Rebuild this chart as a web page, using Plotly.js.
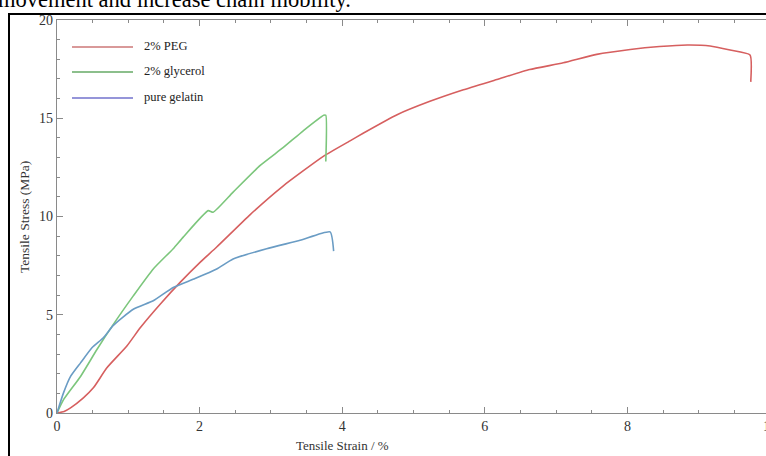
<!DOCTYPE html>
<html>
<head>
<meta charset="utf-8">
<script src="https://cdn.plot.ly/plotly-3.0.1.min.js"></script>
<style>
html,body{margin:0;padding:0;overflow:hidden;background:#fff;}
#chart{width:766px;height:456px;}
</style>
</head>
<body>
<div id="chart"></div>
<script>
// ---- data ----
const seriesNames = ["2% PEG", "2% glycerol", "pure gelatin"];
const pegStrain = [0, 0.10, 0.19, 0.37, 0.51, 0.70, 0.98, 1.17, 1.45, 1.73, 2.01, 2.24, 2.71, 3.17, 3.74, 4.11, 4.30, 4.77, 5.23, 5.70, 6.17, 6.63, 7.10, 7.57, 8.04, 8.45, 8.84, 9.16, 9.44, 9.72, 9.73];
const pegStress = [0, 0.08, 0.26, 0.77, 1.28, 2.30, 3.41, 4.35, 5.55, 6.66, 7.68, 8.45, 10.10, 11.55, 13.07, 13.85, 14.25, 15.18, 15.86, 16.45, 16.97, 17.48, 17.82, 18.25, 18.50, 18.65, 18.73, 18.68, 18.47, 18.22, 16.85];
const glyStrain = [0, 0.09, 0.33, 0.56, 0.79, 1.07, 1.35, 1.63, 1.77, 2.12, 2.19, 2.47, 2.85, 3.17, 3.45, 3.74, 3.77, 3.77];
const glyStress = [0, 0.67, 1.86, 3.23, 4.51, 5.96, 7.33, 8.36, 8.95, 10.30, 10.22, 11.24, 12.60, 13.50, 14.35, 15.15, 15.15, 12.80];
const gelStrain = [0, 0.09, 0.19, 0.33, 0.49, 0.65, 0.79, 1.07, 1.35, 1.63, 1.92, 2.24, 2.47, 2.94, 3.41, 3.83, 3.88];
const gelStress = [0, 1.01, 1.86, 2.55, 3.32, 3.83, 4.46, 5.28, 5.71, 6.39, 6.82, 7.33, 7.84, 8.36, 8.79, 9.22, 8.24];
const xTickVals = [0, 2, 4, 6, 8, 10];
const yTickVals = [0, 5, 10, 15, 20];
const xTitle = "Tensile Strain / %";
const yTitle = "Tensile Stress (MPa)";
const headerText = "movement and increase chain mobility.";

const lineColors = ["#d65f5f", "#7cc67c", "#6a9cc4"];
const legendColors = ["#cc7777", "#66aa66", "#7272cc"];
const serif = "Liberation Serif, Times New Roman, serif";

const traces = [
  {x: pegStrain, y: pegStress, name: seriesNames[0]},
  {x: glyStrain, y: glyStress, name: seriesNames[1]},
  {x: gelStrain, y: gelStress, name: seriesNames[2]}
].map((t, i) => Object.assign(t, {
  type: "scatter", mode: "lines", showlegend: false,
  line: {color: lineColors[i], width: 1.6, shape: "spline", smoothing: 0.5}
}));

// plot area: left 57px, right edge of the picture (the axis continues past the picture up to 10)
const L = 57, T = 20, WIDTH = 766, HEIGHT = 456;
const W = WIDTH - L, H = 393;
const xMax = 10 * W / (770 - L);           // visible part of the 0..10 axis
const px = v => (v - L) / W;
const py = v => 1 - (v - T) / H;
const legendY = [47, 72, 98];
const shapes = [];
const annotations = [];
seriesNames.forEach((n, i) => {
  shapes.push({type: "line", xref: "paper", yref: "paper",
    x0: px(72), x1: px(133), y0: py(legendY[i]), y1: py(legendY[i]),
    line: {color: legendColors[i], width: 1.6}});
  annotations.push({xref: "paper", yref: "paper", x: px(142), y: py(legendY[i] - 1),
    xanchor: "left", yanchor: "middle", showarrow: false, text: n,
    font: {family: serif, size: 12.5, color: "#222"}});
});
// outer frame (top and left edges visible)
shapes.push({type: "line", xref: "paper", yref: "paper",
  x0: px(8), x1: px(770), y0: py(14), y1: py(14), line: {color: "#000", width: 2}});
shapes.push({type: "line", xref: "paper", yref: "paper",
  x0: px(9), x1: px(9), y0: py(13), y1: py(470), line: {color: "#000", width: 2}});
// axis titles
annotations.push({xref: "x", yref: "paper", x: 4, y: py(445), xanchor: "center", yanchor: "middle",
  showarrow: false, text: xTitle, font: {family: serif, size: 13, color: "#333"}});
annotations.push({xref: "paper", yref: "paper", x: px(24), y: py(217), xanchor: "center", yanchor: "middle",
  textangle: -90, showarrow: false, text: yTitle, font: {family: serif, size: 13.5, color: "#333"}});
// last x tick label, cut by the picture's right edge as in the reference
const lastTick = xTickVals[xTickVals.length - 1];
annotations.push({xref: "paper", yref: "paper", x: lastTick / xMax, y: py(417), xanchor: "center", yanchor: "top",
  showarrow: false, text: String(lastTick), font: {family: serif, size: 14, color: "#333"}});
// header text fragment (cut off at the top edge, as in the reference)
annotations.push({xref: "paper", yref: "paper", x: px(-4), y: py(14), xanchor: "left", yanchor: "bottom",
  showarrow: false, text: headerText, font: {family: serif, size: 22.5, color: "#000"}});

const axisCommon = {
  showgrid: false, zeroline: false, showline: true, linecolor: "#8a8a8a", linewidth: 1.2,
  ticks: "inside", ticklen: 6, tickcolor: "#8a8a8a", tickwidth: 1,
  tickmode: "array",
  tickfont: {family: serif, size: 14, color: "#333"}
};

const layout = {
  width: WIDTH, height: HEIGHT,
  margin: {l: L, r: 0, t: T, b: HEIGHT - T - H},
  paper_bgcolor: "#fff", plot_bgcolor: "#fff",
  xaxis: Object.assign({}, axisCommon, {range: [0, xMax], tickvals: xTickVals, mirror: "ticks",
    minor: {ticks: "inside", dtick: 0.5, tick0: 0, ticklen: 3, tickcolor: "#8a8a8a"}}),
  yaxis: Object.assign({}, axisCommon, {range: [0, 20], tickvals: yTickVals, mirror: false,
    minor: {ticks: "inside", dtick: 1, tick0: 0, ticklen: 3, tickcolor: "#8a8a8a"}}),
  shapes: shapes,
  annotations: annotations
};

Plotly.newPlot("chart", traces, layout, {staticPlot: true});
</script>
</body>
</html>
